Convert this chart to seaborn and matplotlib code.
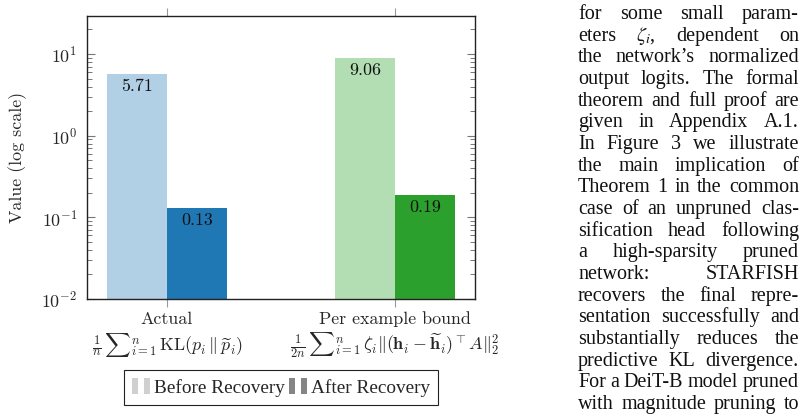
import numpy as np
import pandas as pd
import matplotlib
matplotlib.use("Agg")
import matplotlib.pyplot as plt
import matplotlib.transforms as mtrans
from matplotlib.patches import Rectangle
from matplotlib.legend_handler import HandlerTuple
import seaborn as sns

# Data
categories = ["Actual", "Per example bound"]
formulas = [
    r"$\frac{1}{n}\,{\sum}_{i=1}^{n}\,\mathrm{KL}(p_i\,\|\,\widetilde{p}_i)$",
    r"$\frac{1}{2n}\,{\sum}_{i=1}^{n}\,\zeta_i\|(\mathbf{h}_i-\widetilde{\mathbf{h}}_i)^{\top}A\|_2^2$",
]
stages = ["Before Recovery", "After Recovery"]
before = [5.71, 9.06]
after = [0.13, 0.19]

light_colors = ["#b1cfe5", "#b3deb3"]
dark_colors = ["#1f77b4", "#2ca02c"]
legend_colors = ["#d0d0d0", "#858585"]

body_lines = [
    "for some small param-",
    r"eters $\zeta_i$, dependent on",
    "the network\u2019s normalized",
    "output logits. The formal",
    "theorem and full proof are",
    "given in Appendix A.1.",
    "In Figure 3 we illustrate",
    "the main implication of",
    "Theorem 1 in the common",
    "case of an unpruned clas-",
    "sification head following",
    "a high-sparsity pruned",
    "network: STARFISH",
    "recovers the final repre-",
    "sentation successfully and",
    "substantially reduces the",
    "predictive KL divergence.",
    "For a DeiT-B model pruned",
    "with magnitude pruning to",
]

df = pd.DataFrame({
    "category": categories * 2,
    "stage": [stages[0]] * 2 + [stages[1]] * 2,
    "value": before + after,
})

sns.set_style("ticks")
plt.rcParams["font.family"] = ["cmr10"]
plt.rcParams["mathtext.fontset"] = "cm"
plt.rcParams["axes.formatter.use_mathtext"] = True
plt.rcParams["axes.unicode_minus"] = False

FS = 12.9
W, H = 805, 419
fig = plt.figure(figsize=(W / 100, H / 100), dpi=100)
ax = fig.add_axes([87 / W, 1 - 299 / H, 388 / W, 283 / H])

ax.set_yscale("log")
sns.barplot(data=df, x="category", y="value", hue="stage", hue_order=stages,
            order=categories, width=0.526, ax=ax, legend=False, saturation=1)

# recolour bars per category / stage and add value labels
for p in ax.patches:
    xc = p.get_x() + p.get_width() / 2
    ci = int(round(xc))
    si = 0 if xc < ci else 1
    p.set_facecolor(light_colors[ci] if si == 0 else dark_colors[ci])
    p.set_edgecolor("none")
    v = (before if si == 0 else after)[ci]
    ax.annotate(f"{v:.2f}", xy=(xc, v), xytext=(0, -3.5), textcoords="offset points",
                ha="center", va="top", fontsize=FS, color="#111111")

ax.set_ylim(1e-2, 10 ** 1.466)
ax.set_xlim(-0.351, 1.351)
ax.set_xlabel("")
ax.set_ylabel("Value (log scale)", fontsize=FS, labelpad=10.5)

for s in ax.spines.values():
    s.set_visible(True)
    s.set_color("#222222")
    s.set_linewidth(1.0)

ax.tick_params(axis="y", which="both", direction="in", left=True, right=True,
               color="#777777", labelsize=FS, pad=7)
ax.tick_params(axis="y", which="major", length=5.5, width=0.8)
ax.tick_params(axis="y", which="minor", length=3.6, width=0.7)
ax.tick_params(axis="x", which="both", direction="out", top=True, bottom=True,
               length=6, width=0.8, color="#999999", labelsize=FS, pad=3)
ax.tick_params(axis="x", which="minor", top=False, bottom=False)
ax.set_xticks(range(len(categories)))
ax.set_xticklabels(categories)

trans = mtrans.blended_transform_factory(ax.transData, ax.transAxes)
for i, f in enumerate(formulas):
    ax.text(i, -0.163, f, transform=trans, ha="center", va="center", fontsize=FS)

handles = [(Rectangle((0, 0), 1, 1, fc=c, ec="none"), Rectangle((0, 0), 1, 1, fc=c, ec="none"))
           for c in legend_colors]
leg = ax.legend(handles=handles, labels=stages,
                handler_map={tuple: HandlerTuple(ndivide=None, pad=0.33)},
                loc="upper center", bbox_to_anchor=(0.5, -0.251), ncol=2,
                frameon=True, fancybox=False, edgecolor="#222222", framealpha=1,
                prop={"family": "Liberation Serif", "size": 13.9},
                handlelength=0.9, handleheight=0.85, handletextpad=0.2,
                columnspacing=0.25, borderpad=0.42, borderaxespad=0)
leg.get_frame().set_linewidth(0.8)

# justified body text column on the right
BFS = 14.5
left_px, right_px = 578, 799
base0, pitch = 19, 21.67
fig.canvas.draw()
rend = fig.canvas.get_renderer()
ident = mtrans.IdentityTransform()
for i, line in enumerate(body_lines):
    words = line.split(" ")
    objs = [fig.text(0, 0, w, transform=ident, fontsize=BFS, family="Liberation Serif",
                     math_fontfamily="stix", ha="left", va="baseline", color="#111111")
            for w in words]
    widths = [o.get_window_extent(rend).width for o in objs]
    gap = (right_px - left_px - sum(widths)) / max(len(words) - 1, 1)
    x = left_px
    y = H - (base0 + i * pitch)
    for o, w in zip(objs, widths):
        o.set_position((x, y))
        x += w + gap

fig.savefig("out.png", dpi=100)
